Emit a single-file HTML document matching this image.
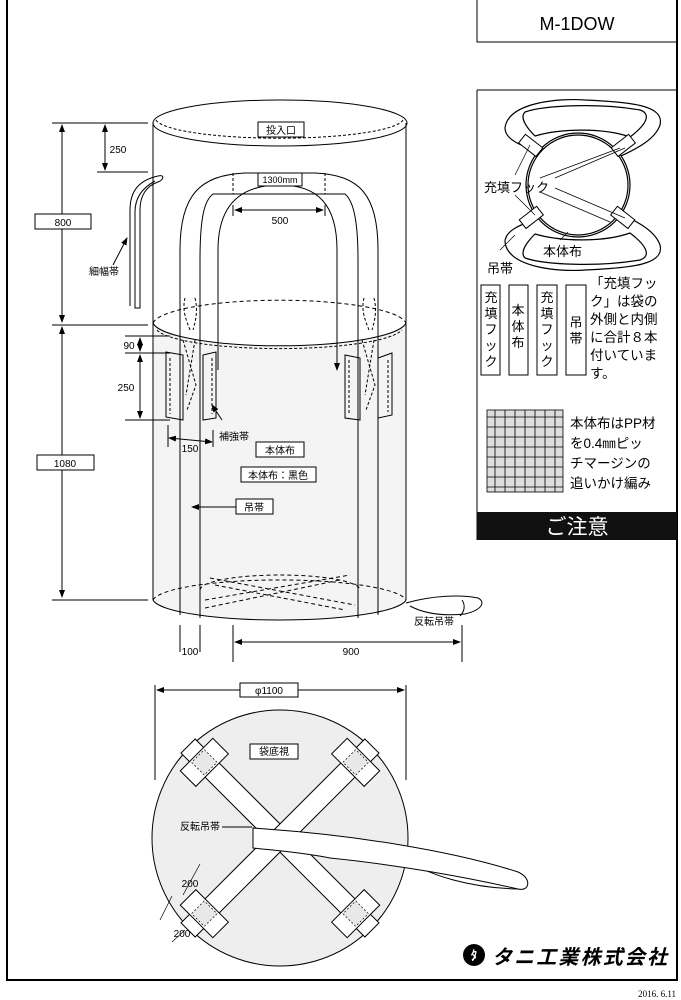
<!DOCTYPE html>
<html><head><meta charset="utf-8"><style>
html,body{margin:0;padding:0;background:#fff;}
svg{display:block;font-family:"Liberation Sans","Noto Sans CJK JP",sans-serif;}
</style></head><body>
<svg width="681" height="1000" viewBox="0 0 681 1000" xmlns="http://www.w3.org/2000/svg">
<defs>
<marker id="a" markerWidth="8" markerHeight="6" refX="7" refY="3" orient="auto-start-reverse"><path d="M0,0 L8,3 L0,6 Z" fill="#000"/></marker>
</defs>
<g fill="none" stroke="#000" stroke-width="1">
<path d="M7,0 V980 H677 V0" stroke-width="2"/>
<path d="M477,0 V42 H677"/>
<path d="M477,90 H677 M477,90 V540"/>
</g>
<text x="577" y="30" font-size="18" text-anchor="middle">M-1DOW</text>

<!-- right panel illustration -->
<g fill="none" stroke="#000" stroke-width="1.2">
<path d="M505,128 C508,102 560,98 585,100 C630,102 665,105 660,125 C655,140 635,150 612,160 C592,140 562,138 540,152 C522,146 505,140 505,128 Z"/>
<path d="M525,112 C545,105 600,103 640,110 C652,114 646,125 630,137 C605,128 562,128 535,136 C525,126 520,117 525,112 Z"/>
<path d="M505,242 C508,268 560,272 585,270 C630,268 665,265 660,245 C655,230 635,220 612,210 C592,230 562,232 540,218 C522,224 505,230 505,242 Z"/>
<path d="M525,258 C545,265 600,267 640,260 C652,256 646,245 630,233 C605,242 562,242 535,234 C525,244 520,253 525,258 Z"/>
<circle cx="578" cy="185" r="52" fill="#fff"/>
<circle cx="578" cy="185" r="50"/>
</g>
<g fill="#fff" stroke="#000">
<rect x="520" y="140" width="22" height="11" transform="rotate(38 531 145)"/>
<rect x="612" y="140" width="22" height="11" transform="rotate(-38 623 145)"/>
<rect x="520" y="212" width="22" height="11" transform="rotate(-38 531 217)"/>
<rect x="612" y="212" width="22" height="11" transform="rotate(38 623 217)"/>
</g>
<g stroke="#000" stroke-width="0.7">
<line x1="515" y1="175" x2="530" y2="145"/><line x1="540" y1="178" x2="620" y2="148"/>
<line x1="555" y1="178" x2="625" y2="148"/><line x1="555" y1="188" x2="625" y2="218"/>
<line x1="540" y1="192" x2="610" y2="222"/><line x1="515" y1="195" x2="535" y2="215"/>
<line x1="500" y1="250" x2="515" y2="235"/><line x1="560" y1="240" x2="568" y2="232"/>
</g>
<text x="484" y="192" font-size="13">充填フック</text>
<rect x="540" y="242" width="50" height="17" fill="#fff"/>
<text x="543" y="256" font-size="13">本体布</text>
<text x="487" y="273" font-size="13">吊帯</text>

<g fill="#fff" stroke="#000">
<rect x="481" y="285" width="19" height="90"/>
<rect x="509" y="285" width="19" height="90"/>
<rect x="537" y="285" width="20" height="90"/>
<rect x="566" y="285" width="20" height="90"/>
</g>
<g font-size="13" text-anchor="middle">
<text x="491" y="302">充</text><text x="491" y="318">填</text><text x="491" y="334">フ</text><text x="491" y="350">ッ</text><text x="491" y="366">ク</text>
<text x="518" y="315">本</text><text x="518" y="331">体</text><text x="518" y="347">布</text>
<text x="547" y="302">充</text><text x="547" y="318">填</text><text x="547" y="334">フ</text><text x="547" y="350">ッ</text><text x="547" y="366">ク</text>
<text x="576" y="327">吊</text><text x="576" y="343">帯</text>
</g>
<g font-size="13.5">
<text x="590" y="288">「充填フッ</text><text x="590" y="306">ク」は袋の</text><text x="590" y="324">外側と内側</text><text x="590" y="342">に合計８本</text><text x="590" y="360">付いていま</text><text x="590" y="378">す。</text>
</g>
<g stroke="#000" stroke-width="0.8" fill="#fff">
<rect x="487" y="410" width="76" height="82" fill="#ddd"/>
<path d="M487,417 H563 M487,427 H563 M487,437 H563 M487,447 H563 M487,457 H563 M487,467 H563 M487,477 H563 M487,487 H563"/>
<path d="M495,410 V492 M505,410 V492 M515,410 V492 M525,410 V492 M535,410 V492 M545,410 V492 M555,410 V492"/>
</g>
<g font-size="13.5">
<text x="570" y="428">本体布はPP材</text><text x="570" y="448">を0.4㎜ピッ</text><text x="570" y="468">チマージンの</text><text x="570" y="488">追いかけ編み</text>
</g>
<rect x="477" y="512" width="200" height="28" fill="#111"/>
<text x="577" y="534" font-size="21" fill="#fff" text-anchor="middle">ご注意</text>

<!-- bag -->
<path d="M153,323 A127,25 0 0 0 406,323 V600 A127,22 0 0 1 153,600 Z" fill="#f4f4f4"/>
<g fill="none" stroke="#000" stroke-width="1">
<ellipse cx="280" cy="123" rx="127" ry="23"/>
<path d="M156,120 A124,20 0 0 0 403,120" stroke-dasharray="3,2"/>
<path d="M153,123 V600 M406,123 V600"/>
<path d="M153,323 A127,25 0 0 1 406,323" stroke-dasharray="4,3"/>
<path d="M153,323 A127,25 0 0 0 406,323"/>
<path d="M157,330 A124,22 0 0 0 402,330" stroke-dasharray="3,2"/>
<path d="M153,600 A127,22 0 0 1 406,600" stroke-dasharray="4,3"/>
<path d="M153,600 A127,22 0 0 0 406,600"/>
<path d="M200,590 A80,15 0 0 1 360,590" stroke-dasharray="4,3"/>
<path d="M205,600 L350,575 M210,578 L355,605 M215,585 L345,610 M205,608 L340,580" stroke-dasharray="4,3"/>
<path d="M180,615 V250 C180,195 200,175 245,173 H315 C360,175 378,195 378,250 V615"/>
<path d="M200,618 V260 C200,215 205,200 213,194 H345 C352,200 358,215 358,260 V618"/>
<path d="M218,370 V250 C218,205 240,185 280,185 C318,185 337,205 337,250 V370" marker-end="url(#a)"/>
<path d="M233,173 V194 M325,173 V194" stroke-dasharray="3,2"/>
<path d="M130,306 V210 C130,190 140,180 158,176 C165,174 164,180 158,182 C146,186 140,196 140,210 V308 H135 V212 C135,198 142,188 155,181"/>
<path d="M166,352 L183,355 V420 L166,417 Z M203,355 L216,352 V418 L203,420 Z"/>
<path d="M170,358 V414 M212,358 V414" stroke-dasharray="3,2"/>
<path d="M345,355 L360,358 V420 L345,418 Z M378,358 L392,353 V415 L378,418 Z"/>
<path d="M349,360 V414 M388,360 V412" stroke-dasharray="3,2"/>
<path d="M185,298 C182,310 186,320 190,330 M195,298 C198,310 196,320 193,330 M183,340 L196,385 L187,410 M195,340 L186,395" stroke-dasharray="3,2"/>
<path d="M364,298 C361,310 365,320 369,330 M374,298 C377,310 375,320 372,330 M362,340 L375,385 L366,410 M374,340 L365,395" stroke-dasharray="3,2"/>
<path d="M406,603 C430,596 460,594 478,598 C486,602 482,610 465,614 C445,616 425,614 410,606"/>
<path d="M462,600 C466,606 464,612 460,616"/>
<path d="M52,123 H148 M52,325 H148 M52,600 H148 M97,172 H148 M125,336 H170 M125,353 H170 M125,420 H170"/>
<line x1="62" y1="125" x2="62" y2="322" marker-start="url(#a)" marker-end="url(#a)"/>
<line x1="62" y1="327" x2="62" y2="597" marker-start="url(#a)" marker-end="url(#a)"/>
<line x1="105" y1="125" x2="105" y2="170" marker-start="url(#a)" marker-end="url(#a)"/>
<line x1="140" y1="338" x2="140" y2="351" marker-start="url(#a)" marker-end="url(#a)"/>
<line x1="140" y1="355" x2="140" y2="418" marker-start="url(#a)" marker-end="url(#a)"/>
<path d="M168,425 V447 M213,430 V447"/>
<line x1="169" y1="438" x2="212" y2="442" marker-start="url(#a)" marker-end="url(#a)"/>
<line x1="235" y1="210" x2="323" y2="210" marker-start="url(#a)" marker-end="url(#a)"/>
<path d="M233,205 V216 M325,205 V216"/>
<path d="M180,625 V652 M200,625 V652 M233,625 V662 M462,625 V662"/>
<line x1="235" y1="642" x2="460" y2="642" marker-start="url(#a)" marker-end="url(#a)"/>
<line x1="113" y1="265" x2="127" y2="238" marker-end="url(#a)"/>
<line x1="222" y1="420" x2="212" y2="405" marker-end="url(#a)"/>
<line x1="237" y1="507" x2="192" y2="507" marker-end="url(#a)"/>
<path d="M155,685 V780 M406,685 V780"/>
<line x1="157" y1="690" x2="404" y2="690" marker-start="url(#a)" marker-end="url(#a)"/>
</g>
<g fill="#fff" stroke="#000">
<rect x="258" y="122" width="46" height="15"/>
<rect x="258" y="173" width="44" height="13"/>
<rect x="35" y="214" width="56" height="15"/>
<rect x="37" y="455" width="57" height="15"/>
<rect x="256" y="442" width="48" height="15"/>
<rect x="241" y="467" width="75" height="15"/>
<rect x="236" y="499" width="37" height="15"/>
<rect x="240" y="683" width="58" height="14"/>
</g>
<g font-size="10" text-anchor="middle">
<text x="281" y="134">投入口</text>
<text x="280" y="183" font-size="9">1300mm</text>
<text x="280" y="224">500</text>
<text x="63" y="226">800</text>
<text x="65" y="467">1080</text>
<text x="118" y="153">250</text>
<text x="129" y="349">90</text>
<text x="126" y="391">250</text>
<text x="190" y="452">150</text>
<text x="234" y="440">補強帯</text>
<text x="280" y="454">本体布</text>
<text x="278" y="479">本体布：黒色</text>
<text x="254" y="511">吊帯</text>
<text x="104" y="275">細幅帯</text>
<text x="434" y="625">反転吊帯</text>
<text x="190" y="655">100</text>
<text x="351" y="655">900</text>
<text x="269" y="694">φ1100</text>
</g>

<!-- bottom view -->
<circle cx="280" cy="838" r="128" fill="#eee" stroke="#000"/>
<path d="M410,862 C430,875 470,888 518,889" fill="none" stroke="#000"/>
<g transform="rotate(45 280 838)">
<rect x="150" y="828" width="260" height="20" fill="#fff" stroke="#000"/>
</g>
<g transform="rotate(-45 280 838)">
<rect x="150" y="828" width="260" height="20" fill="#fff" stroke="#000"/>
</g>
<g stroke="#000" fill="#fff">
<g transform="rotate(45 280 838)"><rect x="162" y="815" width="22" height="46"/><rect x="376" y="815" width="22" height="46"/></g>
<g transform="rotate(-45 280 838)"><rect x="162" y="815" width="22" height="46"/><rect x="376" y="815" width="22" height="46"/></g>
</g>
<g stroke="#000" fill="#e8e8e8" stroke-dasharray="2,2" stroke-width="0.7">
<g transform="rotate(45 280 838)"><rect x="164" y="829" width="18" height="18"/><rect x="378" y="829" width="18" height="18"/></g>
<g transform="rotate(-45 280 838)"><rect x="164" y="829" width="18" height="18"/><rect x="378" y="829" width="18" height="18"/></g>
</g>
<path d="M253,828 L266,829 C350,835 450,850 518,872 C532,878 530,892 518,889 C470,878 400,865 330,858 C300,852 270,850 253,848 Z" fill="#fff" stroke="#000"/>
<path d="M222,827 H252" stroke="#000"/>
<rect x="250" y="744" width="48" height="15" fill="#fff" stroke="#000"/>
<g font-size="10" text-anchor="middle">
<text x="274" y="755">袋底視</text>
<text x="200" y="830">反転吊帯</text>
<text x="190" y="887">200</text>
<text x="182" y="937">200</text>
</g>
<g stroke="#000" stroke-width="0.7"><path d="M200,864 L183,895 M172,896 L160,920 M172,942 L185,930"/></g>
<circle cx="474" cy="955" r="11" fill="#000"/>
<text x="474" y="960" font-size="13" fill="#fff" text-anchor="middle" font-weight="bold">ﾀ</text>
<text x="492" y="964" font-size="20" font-weight="bold" font-style="italic" textLength="175">タニ工業株式会社</text>
<text x="676" y="997" font-size="9" text-anchor="end" font-family="Liberation Serif,serif">2016.  6.11</text>
</svg>
</body></html>
